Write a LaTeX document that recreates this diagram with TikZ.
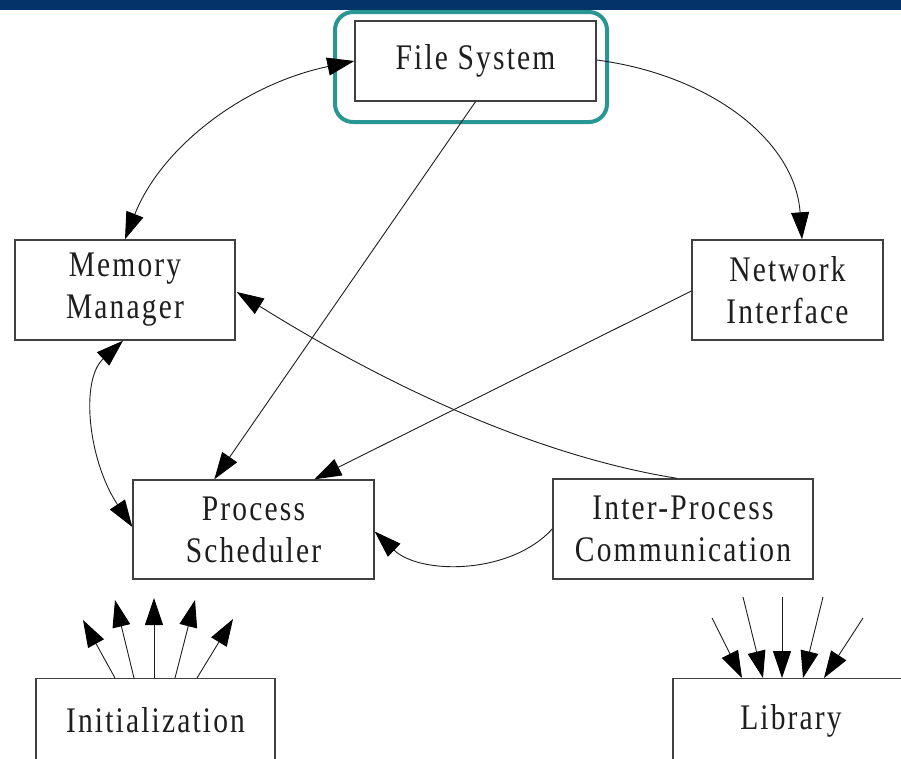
\documentclass[tikz,border=0pt]{standalone}
\usepackage{fontspec}
\setmainfont{Liberation Serif}[FakeStretch=0.82,LetterSpace=6]
\usetikzlibrary{arrows.meta,calc}
\definecolor{navy}{HTML}{04336A}
\definecolor{tealhl}{HTML}{2A9694}
\definecolor{ink}{HTML}{1E1E1E}
\tikzset{
  box/.style={draw=ink!85, line width=1.4pt, fill=white, inner sep=0pt, align=center,
    text=ink, font=\fontsize{36}{42}\selectfont},
  tipA/.tip={Triangle[length=27pt,width=18pt,color=black]},
  conn/.style={draw=ink, line width=0.9pt, -tipA},
  biconn/.style={draw=ink, line width=0.9pt, tipA-tipA},
}
\begin{document}
\begin{tikzpicture}[x=1pt,y=-1pt]
\useasboundingbox (0,0) rectangle (901,758);
\clip (0,0) rectangle (901,758);
\fill[white] (0,0) rectangle (901,758);
\fill[navy] (0,0) rectangle (901,10);

\node[box, minimum width=241pt, minimum height=80pt] (fs) at (475.5,61) {File System};
\node[box, minimum width=220pt, minimum height=100pt] (mm) at (125,290) {Memory\\Manager};
\node[box, minimum width=191pt, minimum height=100pt] (ni) at (787.5,290) {Network\\Interface};
\node[box, minimum width=241pt, minimum height=99pt] (ps) at (253.5,529.5) {Process\\Scheduler};
\node[box, minimum width=260pt, minimum height=100pt] (ipc) at (683,529) {Inter-Process\\Communication};
\node[box, minimum width=239pt, minimum height=84pt, anchor=north] (init) at (155.5,678) {Initialization\rule[-2pt]{0pt}{0pt}};
\node[box, minimum width=236pt, minimum height=84pt, anchor=north] (lib) at (791,678) {Library};

\draw[tealhl, line width=4pt, rounded corners=18pt] (335,12) rectangle (607,122);

% File System <-> Memory Manager
\draw[biconn] (mm.north) .. controls (160,150) and (240,85) .. (fs.west);
% File System -> Network Interface
\draw[conn] ($(fs.east)+(0,-1)$) .. controls (710,75) and (795,140) .. ($(ni.north)+(14.5,0)$);
% File System -> Process Scheduler
\draw[conn] (fs.south) -- ($(ps.north west)+(82,0)$);
% Network Interface -> Process Scheduler
\draw[conn] ($(ni.west)+(0,1)$) -- ($(ps.north west)+(182,0)$);
% IPC -> Memory Manager
\draw[conn] ($(ipc.north)+(-6,0)$) .. controls (500,450) and (330,350) .. ($(mm.east)+(1,2)$);
% Memory Manager <-> Process Scheduler
\draw[biconn] ($(mm.south)+(-2,0)$) .. controls (80,380) and (88,460) .. ($(ps.west)+(0,-2.5)$);
% IPC -> Process Scheduler
\draw[conn] (ipc.west) .. controls (510,575) and (420,575) .. ($(ps.east)+(0,2)$);

% Initialization outgoing arrows
\coordinate (i1) at (83,620);
\coordinate (i2) at (115,600);
\coordinate (i3) at (154,598);
\coordinate (i4) at (195,600);
\coordinate (i5) at (233,619);
\draw[conn] ($(init.north)+(-40.5,0)$) -- (i1);
\draw[conn] ($(init.north)+(-21.5,0)$) -- (i2);
\draw[conn] ($(init.north)+(-1.5,0)$) -- (i3);
\draw[conn] ($(init.north)+(19.5,0)$) -- (i4);
\draw[conn] ($(init.north)+(41.5,0)$) -- (i5);

% Library incoming arrows
\coordinate (l1) at (712,618);
\coordinate (l2) at (743,597);
\coordinate (l3) at (782,597);
\coordinate (l4) at (823,597);
\coordinate (l5) at (863,618);
\draw[conn] (l1) -- ($(lib.north)+(-49,0)$);
\draw[conn] (l2) -- ($(lib.north)+(-28,0)$);
\draw[conn] (l3) -- ($(lib.north)+(-9,0)$);
\draw[conn] (l4) -- ($(lib.north)+(12,0)$);
\draw[conn] (l5) -- ($(lib.north)+(33,0)$);
\end{tikzpicture}
\end{document}
